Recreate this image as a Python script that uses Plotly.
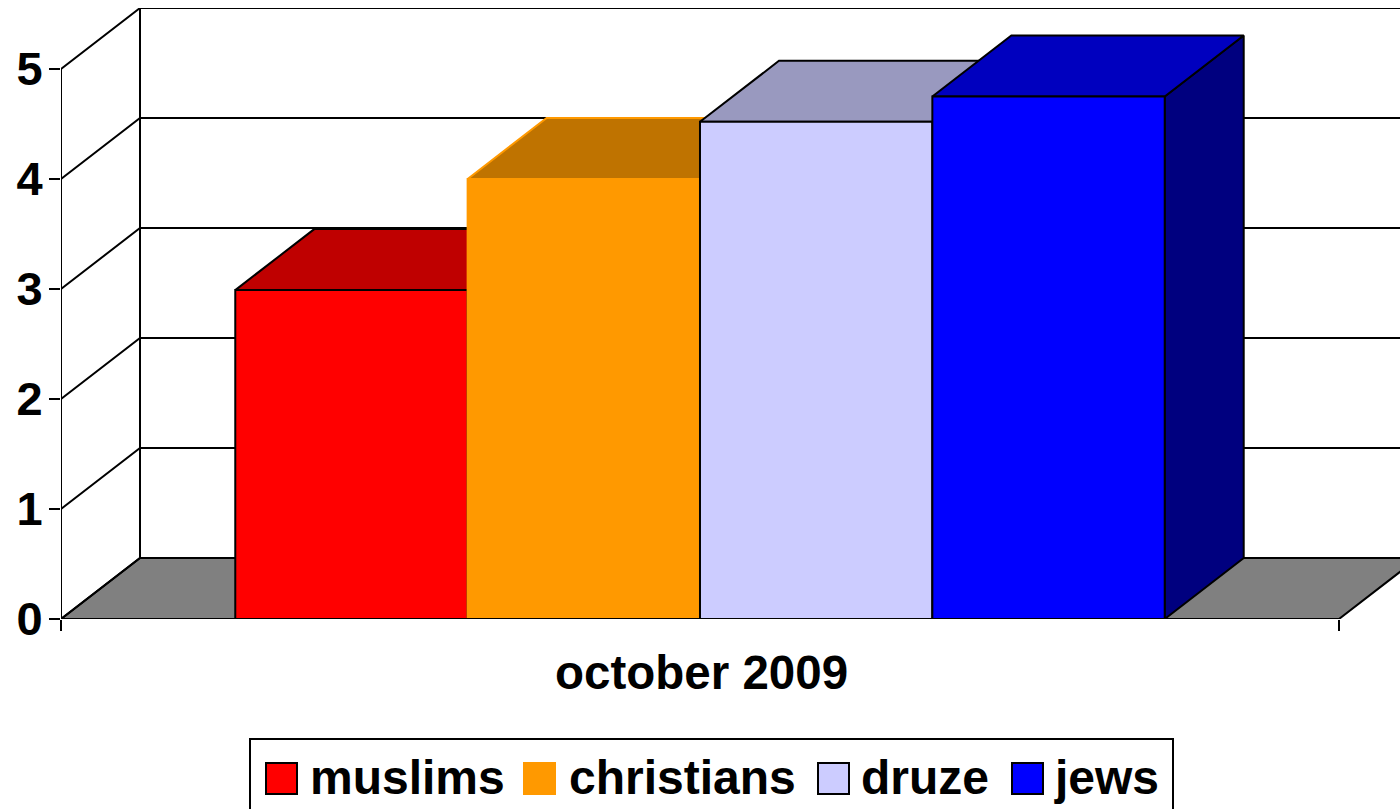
"""Excel-style 3D column chart, depth faces are drawn from the same values as the bars."""

import plotly.graph_objects as go

CATEGORIES = ["muslims", "christians", "druze", "jews"]
VALUES = [2.99, 4, 4.52, 4.75]
FRONT_COLORS = ["#FF0000", "#FF9900", "#CCCCFF", "#0000FF"]
TOP_COLORS = ["#BF0000", "#BF7300", "#9999BF", "#0000BF"]
SIDE_COLORS = ["#7F0000", "#7F4C00", "#66667F", "#00007F"]
EDGE_COLORS = ["#000000", "#FF9900", "#000000", "#000000"]
Y_TICKS = [0, 1, 2, 3, 4, 5]
X_LABEL = "october 2009"

WIDTH, HEIGHT = 1400, 809
LEFT, TOP, BOTTOM = 61, 8, 190
PX_PER_X = 232.36
PX_PER_Y = 110.0
DX = 79 / PX_PER_X
DY = 61 / PX_PER_Y
X0, X1 = -1.25, 4.25
X_RANGE = [X0, X0 + (WIDTH - LEFT) / PX_PER_X]
Y_RANGE = [0, Y_TICKS[-1] + DY]
FONT = "Liberation Sans"
LINE = dict(color="#000000", width=2)


def px_x(px):
    return (px - LEFT) / (WIDTH - LEFT)


def px_y(px):
    return 1 - (px - TOP) / (HEIGHT - TOP - BOTTOM)


def polygon(xs, ys, fill, edge):
    return go.Scatter(
        x=xs + xs[:1],
        y=ys + ys[:1],
        mode="lines",
        fill="toself",
        fillcolor=fill,
        line=dict(color=edge, width=2),
        cliponaxis=False,
        hoverinfo="skip",
        showlegend=False,
    )


fig = go.Figure()

# --- sol gris et parois ---
fig.add_trace(polygon([X0, X0 + DX, X1 + DX, X1], [0, DY, DY, 0], "#808080", "#000000"))

wall_x, wall_y = [X0, X0, None, X0 + DX, X0 + DX, None], [0, Y_TICKS[-1], None, 0 + DY, Y_TICKS[-1] + DY, None]
for v in Y_TICKS:
    wall_x += [X0, X0 + DX, X1 + DX, None]
    wall_y += [v, v + DY, v + DY, None]
fig.add_trace(
    go.Scatter(x=wall_x, y=wall_y, mode="lines", line=LINE, cliponaxis=False, hoverinfo="skip", showlegend=False)
)

# --- faces de profondeur, de gauche à droite ---
for i, v in enumerate(VALUES):
    left, right = i - 0.5, i + 0.5
    fig.add_trace(polygon([right, right + DX, right + DX, right], [0, DY, v + DY, v], SIDE_COLORS[i], EDGE_COLORS[i]))
    fig.add_trace(polygon([left, left + DX, right + DX, right], [v, v + DY, v + DY, v], TOP_COLORS[i], EDGE_COLORS[i]))

# --- faces avant, sur des axes superposés pour passer devant ---
for i, v in enumerate(VALUES):
    fig.add_trace(
        go.Bar(
            x=[i],
            y=[v],
            width=1,
            name=CATEGORIES[i],
            marker=dict(color=FRONT_COLORS[i], line=dict(color=EDGE_COLORS[i], width=2)),
            cliponaxis=False,
            xaxis="x2",
            yaxis="y2",
            showlegend=False,
        )
    )

# ligne de base par-dessus les barres
fig.add_trace(
    go.Scatter(
        x=[X0, X1],
        y=[0, 0],
        mode="lines",
        line=LINE,
        cliponaxis=False,
        xaxis="x2",
        yaxis="y2",
        hoverinfo="skip",
        showlegend=False,
    )
)

# --- légende dessinée : les pastilles de 30 px dépassent ce que permet la légende native ---
shapes = [
    dict(
        type="rect",
        xref="paper",
        yref="paper",
        x0=px_x(250),
        x1=px_x(1173),
        y0=px_y(739),
        y1=px_y(830),
        line=LINE,
        fillcolor="#FFFFFF",
    )
]
annotations = [
    dict(
        text=X_LABEL,
        xref="paper",
        yref="paper",
        x=px_x(701),
        y=px_y(672),
        xanchor="center",
        yanchor="middle",
        showarrow=False,
        borderpad=0,
        font=dict(family=FONT, size=47.5, color="#000000", weight=700),
    )
]
SWATCH_X = [266, 524, 818, 1012]
TEXT_X = [309, 568, 860, 1053]
for i, name in enumerate(CATEGORIES):
    shapes.append(
        dict(
            type="rect",
            xref="paper",
            yref="paper",
            x0=px_x(SWATCH_X[i]),
            x1=px_x(SWATCH_X[i] + 31),
            y0=px_y(763),
            y1=px_y(794),
            line=dict(color=EDGE_COLORS[i], width=2),
            fillcolor=FRONT_COLORS[i],
        )
    )
    annotations.append(
        dict(
            text=name,
            xref="paper",
            yref="paper",
            x=px_x(TEXT_X[i]),
            y=px_y(777),
            xanchor="left",
            yanchor="middle",
            showarrow=False,
            borderpad=0,
            font=dict(family=FONT, size=48, color="#000000", weight=700),
        )
    )

fig.update_layout(
    width=WIDTH,
    height=HEIGHT,
    margin=dict(l=LEFT, r=0, t=TOP, b=BOTTOM),
    paper_bgcolor="#FFFFFF",
    plot_bgcolor="#FFFFFF",
    shapes=shapes,
    annotations=annotations,
    showlegend=False,
    xaxis=dict(
        range=X_RANGE,
        tickvals=[X0, X1],
        ticktext=["", ""],
        ticks="outside",
        ticklen=11,
        tickwidth=2,
        tickcolor="#000000",
        showgrid=False,
        zeroline=False,
        showline=False,
    ),
    yaxis=dict(
        range=Y_RANGE,
        tickvals=Y_TICKS,
        ticks="outside",
        ticklen=11,
        tickwidth=2,
        tickcolor="#000000",
        ticklabelstandoff=-3,
        tickfont=dict(family=FONT, size=47, color="#000000", weight=700),
        showgrid=False,
        zeroline=False,
        showline=False,
    ),
    xaxis2=dict(range=X_RANGE, overlaying="x", visible=False),
    yaxis2=dict(range=Y_RANGE, overlaying="y", visible=False),
)

fig.write_html("out.html", config=dict(displayModeBar=False), post_script="document.body.style.margin='0';")
